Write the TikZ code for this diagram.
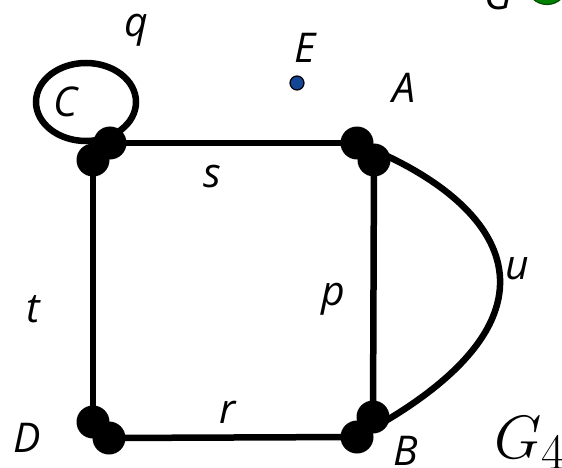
\documentclass[tikz,border=0pt]{standalone}
\usepackage[no-math]{fontspec}
\newfontfamily\labfont{Open Sans}
\begin{document}
\begin{tikzpicture}[x=1pt,y=-1pt,
  vdot/.style={circle,fill=black,inner sep=0pt,minimum size=33pt},
  edge/.style={line width=6.5pt},
  lab/.style={anchor=base,inner sep=0pt,font=\labfont\itshape\fontsize{41}{41}\selectfont}]
\useasboundingbox (0,0) rectangle (562,468);
\clip (0,0) rectangle (562,468);
% vertices (two end dots per corner)
\node[vdot] (C1) at (110,143) {};
\node[vdot] (C2) at (93,160) {};
\node[vdot] (A1) at (357,143) {};
\node[vdot] (A2) at (374,160) {};
\node[vdot] (B1) at (373,417) {};
\node[vdot] (B2) at (357,437) {};
\node[vdot] (D1) at (93,422) {};
\node[vdot] (D2) at (109,438) {};
% edges
\draw[edge] (C1.center) -- (A1.center);
\draw[edge] (C2.center) -- (D1.center);
\draw[edge] (D2.center) -- (B2.center);
\draw[edge] (A2.center) -- (B1.center);
\draw[edge] (A1.center) .. controls (515,205) and (578,320) .. (B2.center);
\coordinate (qc) at (86,102);
\draw[edge] (qc) ellipse [x radius=50, y radius=39];
% isolated vertex E
\node[circle,fill={rgb,255:red,20;green,70;blue,150},draw=black,line width=1.2pt,inner sep=0pt,minimum size=14pt] (E) at (297,83) {};
% partially visible vertex G
\node[circle,fill={rgb,255:red,0;green,128;blue,0},draw=black!70!green,line width=1.2pt,inner sep=0pt,minimum size=41pt] (G) at (547,-16) {};
% labels
\node[lab] (lq) at (136,37) {q};
\node[lab] (lE) at (305,63) {E};
\node[lab] (lA) at (404,103) {A};
\node[lab] (lC) at (66,117) {C};
\node[lab] (ls) at (212,187) {s};
\node[lab] (lt) at (33,322) {t};
\node[lab] (lp) at (333,305) {p};
\node[lab] (lu) at (517,279) {u};
\node[lab] (lr) at (228,423) {r};
\node[lab] (lD) at (27,452) {D};
\node[lab] (lB) at (406,465) {B};
\node[lab] (lG) at (498,10) {G};
\node[anchor=base west,inner sep=0pt,scale=2.46,font=\Huge] (lG4) at (494,458) {$G_4$};
\end{tikzpicture}
\end{document}
